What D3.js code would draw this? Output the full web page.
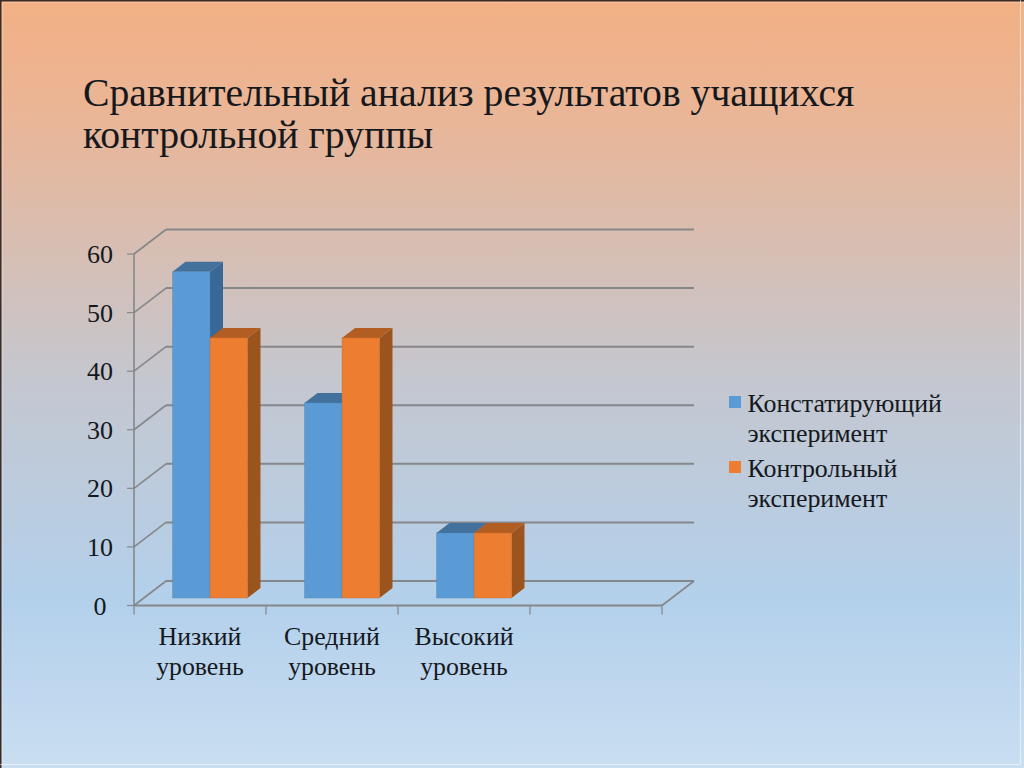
<!DOCTYPE html>
<html lang="ru">
<head>
<meta charset="utf-8">
<script src="https://cdn.jsdelivr.net/npm/d3@7/dist/d3.min.js"></script>
<style>
html,body{margin:0;padding:0;background:#fff;overflow:hidden}
svg{display:block}
text{font-family:"Liberation Serif",serif;fill:#15181c}
</style>
</head>
<body>
<svg id="chart" width="1024" height="768"></svg>
<script>
const categories = [["Низкий","уровень"],["Средний","уровень"],["Высокий","уровень"],[]];
const seriesNames = [["Констатирующий","эксперимент"],["Контрольный","эксперимент"]];
const firstSeries = [55.7,33.3,11.1];
const secondSeries = [44.4,44.4,11.1];
const yTicks = [0,10,20,30,40,50,60];
const titleLines = ["Сравнительный анализ результатов учащихся","контрольной группы"];
const frontColors = ["#5B9BD5","#ED7D31"];
const sideColors = ["#3A6896","#9C541F"];
const topColors = ["#41719C","#B25E22"];

const svg = d3.select("#chart");
const W = 1024, H = 768;

const defs = svg.append("defs");
const bg = defs.append("linearGradient").attr("id","bg").attr("x1",0).attr("y1",0).attr("x2",0).attr("y2",1);
[[0,"#F3B084"],[0.16,"#E9B698"],[0.5,"#C4C7D0"],[0.78,"#B3D0EB"],[1,"#C9DEF1"]]
  .forEach(([o,c])=>bg.append("stop").attr("offset",o).attr("stop-color",c));
svg.append("rect").attr("width",W).attr("height",H).attr("fill","url(#bg)");
svg.append("path").attr("d",`M0.75 ${H}V0.75H${W}`).attr("fill","none").attr("stroke","#3a2c26").attr("stroke-width",1.5);
svg.append("path").attr("d",`M2.5 ${H}V2.5H${W}`).attr("fill","none").attr("stroke","#fff").attr("stroke-opacity",0.25).attr("stroke-width",1);
svg.append("path").attr("d",`M0 764.5H1020.5V0`).attr("fill","none").attr("stroke","#fff").attr("stroke-opacity",0.55).attr("stroke-width",1);

// title
svg.append("g").selectAll("text").data(titleLines).join("text")
  .attr("x",83).attr("y",(d,i)=>106+i*42)
  .attr("font-size",39.7).text(d=>d);

// scales
const x0 = d3.scaleBand().domain(d3.range(categories.length)).range([134,662]);
const y = d3.scaleLinear().domain([0,60]).range([605.5,254]);
const wallDx = 32, wallDy = -24.5;      // depth of the chart box
const barOffX = 10, barOffY = -7.5;     // front of the bars inside the box
const barDx = 13, barDy = -10;          // depth of a bar
const groupW = 75;
const x1 = d3.scaleBand().domain([0,1]).range([0,groupW]);

const gridColor = "#85878a";
const grid = svg.append("g");
grid.selectAll("line.h").data(yTicks).join("line")
  .attr("x1",134+wallDx).attr("x2",662+wallDx)
  .attr("y1",d=>y(d)+wallDy).attr("y2",d=>y(d)+wallDy)
  .attr("stroke",gridColor).attr("stroke-width",2);
grid.selectAll("line.w").data(yTicks).join("line")
  .attr("x1",134).attr("x2",134+wallDx)
  .attr("y1",d=>y(d)).attr("y2",d=>y(d)+wallDy)
  .attr("stroke",gridColor).attr("stroke-width",1.6);
grid.append("line").attr("x1",134).attr("x2",134).attr("y1",y(60)).attr("y2",y(0))
  .attr("stroke",gridColor).attr("stroke-width",1.6);
grid.selectAll("line.t").data(yTicks).join("line")
  .attr("x1",127).attr("x2",134).attr("y1",d=>y(d)).attr("y2",d=>y(d))
  .attr("stroke",gridColor).attr("stroke-width",1.2);
// floor
grid.append("line").attr("x1",134).attr("x2",662).attr("y1",y(0)).attr("y2",y(0))
  .attr("stroke",gridColor).attr("stroke-width",2);
grid.append("line").attr("x1",662).attr("x2",662+wallDx).attr("y1",y(0)).attr("y2",y(0)+wallDy)
  .attr("stroke",gridColor).attr("stroke-width",1.6);
const xTickPos = d3.range(categories.length).map(i=>x0(i)).concat([x0.range()[1]]);
grid.selectAll("line.xt").data(xTickPos).join("line")
  .attr("x1",d=>d).attr("x2",d=>d).attr("y1",y(0)).attr("y2",y(0)+9)
  .attr("stroke",gridColor).attr("stroke-width",1.2);

// bars
function drawBar(g,left,w,val,s){
  const xl = left+barOffX, xr = xl+w;
  const yb = y(0)+barOffY, yt = y(val)+barOffY;
  g.append("path").attr("fill",sideColors[s])
    .attr("d",d3.line()([[xr,yb],[xr+barDx,yb+barDy],[xr+barDx,yt+barDy],[xr,yt]])+"Z");
  g.append("path").attr("fill",topColors[s])
    .attr("d",d3.line()([[xl,yt],[xl+barDx,yt+barDy],[xr+barDx,yt+barDy],[xr,yt]])+"Z");
  g.append("rect").attr("x",xl).attr("y",yt).attr("width",w).attr("height",yb-yt)
    .attr("fill",frontColors[s]).attr("stroke",d3.color(frontColors[s]).darker(0.5)).attr("stroke-opacity",0.45).attr("stroke-width",0.8);
}
const bars = svg.append("g");
[firstSeries,secondSeries].forEach((vals,s)=>{
  vals.forEach((v,i)=>{
    const left = x0(i)+(x0.bandwidth()-groupW)/2+x1(s);
    drawBar(bars,left,x1.bandwidth(),v,s);
  });
});

// y labels
svg.append("g").selectAll("text").data(yTicks).join("text")
  .attr("x",100).attr("y",d=>y(d)+9).attr("text-anchor","middle").attr("font-size",26).text(d=>d);

// category labels
categories.forEach((lines,i)=>{
  svg.append("g").selectAll("text").data(lines).join("text")
    .attr("x",x0(i)+x0.bandwidth()/2).attr("y",(d,k)=>645+k*30)
    .attr("text-anchor","middle").attr("font-size",25.8).text(d=>d);
});

// legend
const legendY = [402,467];
seriesNames.forEach((lines,s)=>{
  svg.append("rect").attr("x",729).attr("y",legendY[s]-6).attr("width",12).attr("height",12).attr("fill",frontColors[s]);
  svg.append("g").selectAll("text").data(lines).join("text")
    .attr("x",747.5).attr("y",(d,k)=>legendY[s]+10+k*29.5).attr("font-size",25.9).text(d=>d);
});
</script>
</body>
</html>
